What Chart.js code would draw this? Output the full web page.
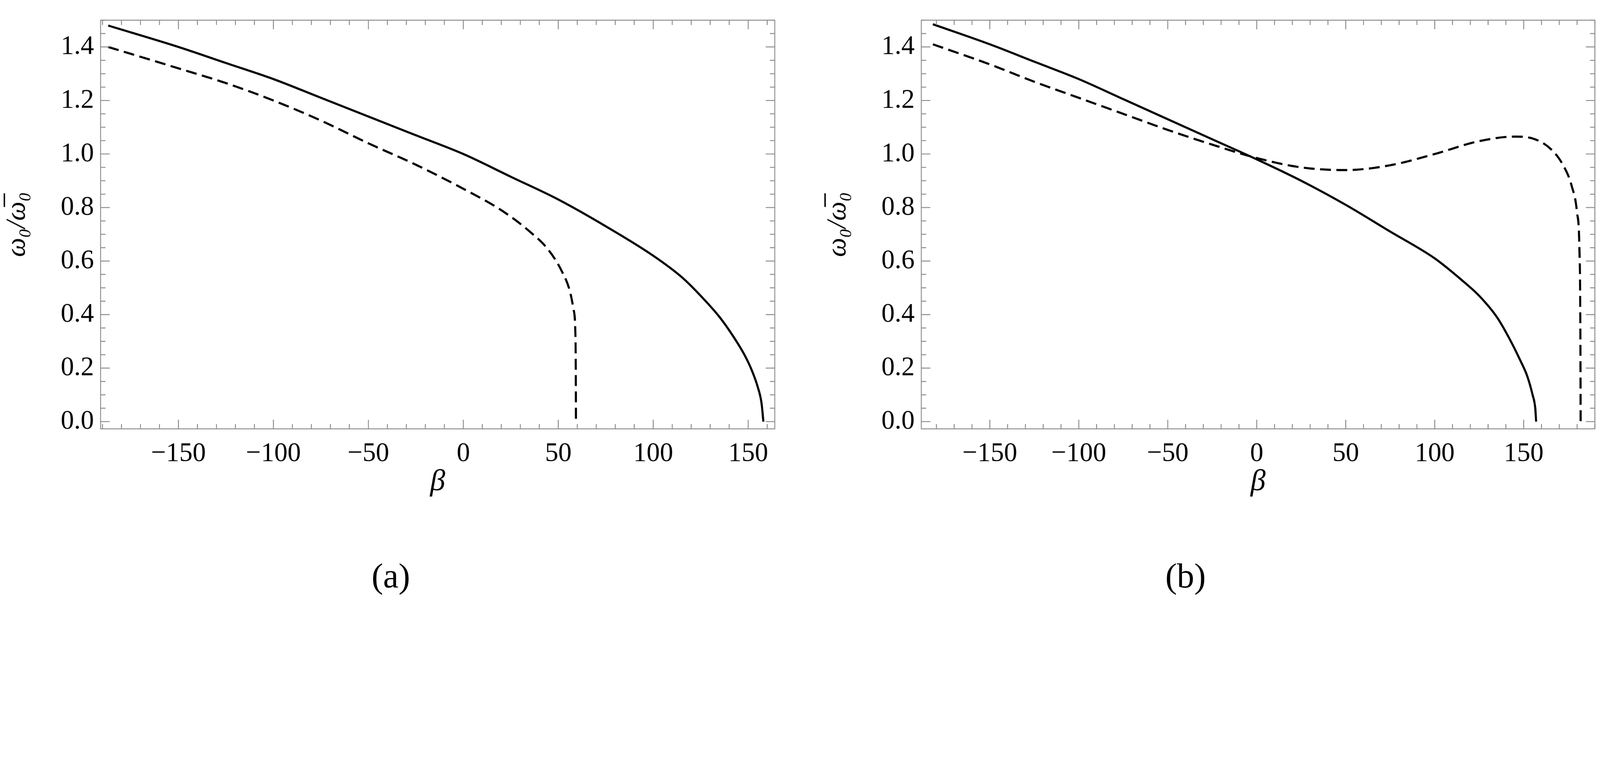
<!DOCTYPE html>
<html>
<head>
<meta charset="utf-8">
<script src="https://cdn.jsdelivr.net/npm/chart.js@4/dist/chart.umd.min.js"></script>
<style>
  html, body { margin: 0; background: #fff; overflow: hidden; }
  #page { width: 5297px; height: 2006px; position: relative; transform-origin: 0 0; }
  .box { position: absolute; top: 0; height: 1660px; }
  .cap { position: absolute; top: 1840px; font: 115px "Liberation Serif", serif; transform: translateX(-50%); }
</style>
</head>
<body>
<div id="page">
<div class="box" style="left:0;width:2600px"><canvas id="chartA"></canvas></div>
<div class="box" style="left:2717px;width:2580px"><canvas id="chartB"></canvas></div>
<div class="cap" style="left:1294px">(a)</div>
<div class="cap" style="left:3925px">(b)</div>
</div>
<script>
document.getElementById('page').style.transform = 'scale(' + (window.innerWidth / 5297) + ')';

// panel (a)
const aSolidX = [-187, -150, -125, -100, -75, -50, -25, 0, 25, 50, 75, 100, 115, 125, 135, 142, 148, 152, 155, 157, 158];
const aSolidY = [1.48, 1.40, 1.34, 1.28, 1.21, 1.14, 1.07, 1.0, 0.915, 0.83, 0.73, 0.62, 0.54, 0.47, 0.39, 0.32, 0.25, 0.19, 0.13, 0.07, 0];
const aDashX = [-187, -150, -125, -100, -75, -50, -25, 0, 20, 35, 45, 52, 56, 58, 59, 59.2, 59.3];
const aDashY = [1.40, 1.32, 1.265, 1.20, 1.125, 1.04, 0.96, 0.87, 0.79, 0.71, 0.64, 0.56, 0.49, 0.42, 0.33, 0.2, 0];
// panel (b)
const bSolidX = [-182, -150, -125, -100, -75, -50, -25, 0, 25, 50, 75, 100, 115, 125, 135, 142, 148, 152, 155, 156.5, 157];
const bSolidY = [1.485, 1.41, 1.345, 1.28, 1.205, 1.13, 1.055, 0.98, 0.9, 0.81, 0.71, 0.61, 0.53, 0.47, 0.39, 0.31, 0.23, 0.17, 0.1, 0.05, 0];
const bDashX = [-182, -150, -125, -100, -75, -50, -25, 0, 25, 50, 75, 100, 125, 145, 155, 165, 172, 177, 180, 181.3, 181.8, 182];
const bDashY = [1.41, 1.335, 1.27, 1.21, 1.15, 1.09, 1.035, 0.985, 0.95, 0.94, 0.958, 1.0, 1.048, 1.065, 1.058, 1.02, 0.96, 0.88, 0.78, 0.65, 0.4, 0];

const font = { family: '"Liberation Serif", serif', size: 88 };
const pts = (xs, ys) => xs.map((x, i) => ({ x: x, y: ys[i] }));

// Mathematica-like frame with inward ticks
const frame = {
  id: 'frame',
  afterDraw(chart) {
    const { ctx, chartArea: a, scales: { x, y } } = chart;
    ctx.save();
    ctx.strokeStyle = '#888';
    ctx.lineWidth = 3;
    ctx.strokeRect(a.left, a.top, a.right - a.left, a.bottom - a.top);
    for (let v = -200; v <= 200; v += 10) {
      const px = x.getPixelForValue(v);
      if (px < a.left || px > a.right) continue;
      const len = v % 50 === 0 ? 30 : 16;
      ctx.beginPath();
      ctx.moveTo(px, a.bottom); ctx.lineTo(px, a.bottom - len);
      ctx.moveTo(px, a.top); ctx.lineTo(px, a.top + len);
      ctx.stroke();
    }
    for (let k = 0; k <= 30; k++) {
      const v = k * 0.05;
      const py = y.getPixelForValue(v);
      if (py < a.top || py > a.bottom) continue;
      const len = k % 4 === 0 ? 30 : 16;
      ctx.beginPath();
      ctx.moveTo(a.left, py); ctx.lineTo(a.left + len, py);
      ctx.moveTo(a.right, py); ctx.lineTo(a.right - len, py);
      ctx.stroke();
    }
    ctx.restore();
  }
};

function makeChart(id, solid, dashed, xmin, xmax, padRight) {
  new Chart(document.getElementById(id), {
    type: 'scatter',
    data: {
      datasets: [
        { data: solid, showLine: true, borderColor: '#000', borderWidth: 7, pointRadius: 0, cubicInterpolationMode: 'monotone' },
        { data: dashed, showLine: true, borderColor: '#000', borderWidth: 7, borderDash: [36, 18], pointRadius: 0, cubicInterpolationMode: 'monotone' }
      ]
    },
    options: {
      responsive: true, maintainAspectRatio: false, animation: false,
      layout: { padding: { top: 51, right: padRight } },
      plugins: { legend: { display: false }, tooltip: { enabled: false } },
      scales: {
        x: {
          type: 'linear', min: xmin, max: xmax,
          afterBuildTicks: s => { s.ticks = [-150, -100, -50, 0, 50, 100, 150].map(v => ({ value: v })); },
          ticks: { font: font, color: '#000', padding: 22, maxRotation: 0, callback: v => v < 0 ? '\u2212' + Math.abs(v) : String(v) },
          grid: { display: false },
          border: { display: false },
          title: { display: true, text: 'β', font: { family: font.family, size: 100, style: 'italic' }, color: '#000', padding: { top: 40 } },
          afterFit: s => { s.height = 241; }
        },
        y: {
          min: -0.027, max: 1.5,
          afterBuildTicks: s => { s.ticks = [0, 0.2, 0.4, 0.6, 0.8, 1.0, 1.2, 1.4].map(v => ({ value: v })); },
          ticks: { font: font, color: '#000', padding: 14, callback: v => v.toFixed(1) },
          grid: { display: false },
          border: { display: false },
          title: { display: true, text: 'ω\u2080/ω\u0305\u2080', font: { family: font.family, size: 90, style: 'italic' }, color: '#000' },
          afterFit: s => { s.width = 333; }
        }
      }
    },
    plugins: [frame]
  });
}

makeChart('chartA', pts(aSolidX, aSolidY), pts(aDashX, aDashY), -191, 164, 35);
makeChart('chartB', pts(bSolidX, bSolidY), pts(bDashX, bDashY), -188.5, 190, 17);
</script>
</body>
</html>
